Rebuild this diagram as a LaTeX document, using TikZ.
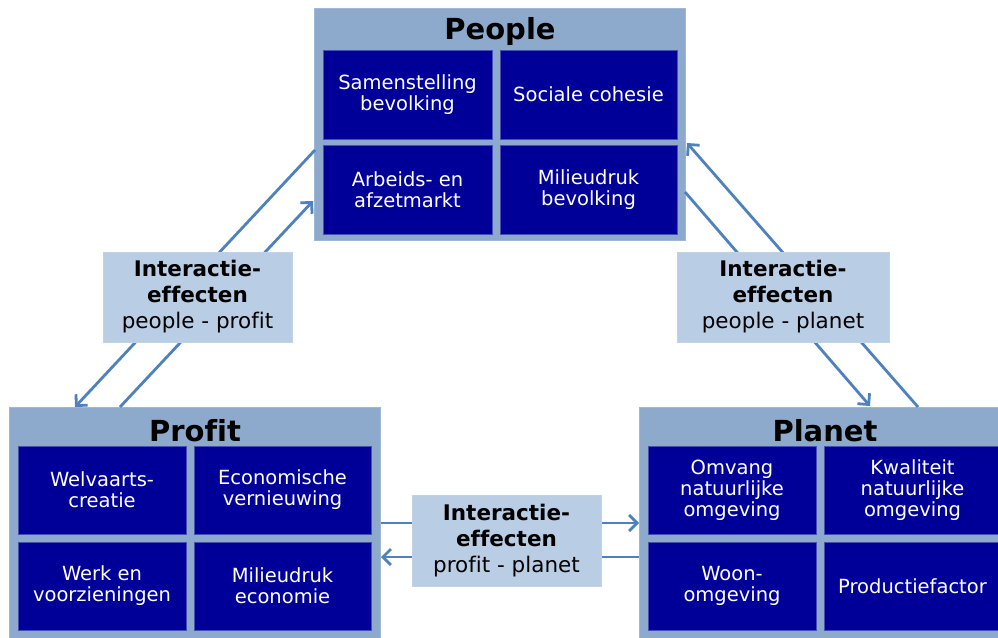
\documentclass[tikz,border=0pt]{standalone}
\usepackage{fontspec}
\setmainfont[Ligatures={NoCommon}]{DejaVu Sans}
\usetikzlibrary{arrows.meta}
\definecolor{outerblue}{HTML}{8DAACC}
\definecolor{cellblue}{HTML}{000099}
\definecolor{labelblue}{HTML}{B9CDE5}
\definecolor{arrowblue}{HTML}{4F81BD}
\begin{document}
\begin{tikzpicture}[x=1pt,y=-1pt,
  outerbox/.style={fill=outerblue, draw=outerblue!85!white, line width=1pt, inner sep=0pt},
  cell/.style={fill=cellblue, draw=cellblue!70!white, line width=0.6pt, inner sep=0pt, text=white, align=center,
    font=\fontsize{19.5}{21}\selectfont},
  title/.style={font=\bfseries\fontsize{29}{30}\selectfont, text=black, inner sep=0pt},
  label/.style={fill=labelblue, draw=labelblue!90!white, line width=0.6pt, inner sep=0pt, align=center,
    font=\fontsize{21.5}{26}\selectfont, text=black},
  conn/.style={draw=arrowblue, line width=2.8pt, -{Straight Barb[length=8pt,width=16pt]}}
]
\clip (0,0) rectangle (998,637);
\fill[white] (0,0) rectangle (998,637);

% People
\node[outerbox, minimum width=371pt, minimum height=232pt] (people) at (499.5,124) {};
\node[title] (peopletitle) at (500,31) {People};
\node[cell, minimum width=169pt, minimum height=89pt] (pc1) at (407.5,94.5) {Samenstelling\\bevolking};
\node[cell, minimum width=177pt, minimum height=89pt] (pc2) at (588.5,94.5) {Sociale cohesie};
\node[cell, minimum width=169pt, minimum height=89pt] (pc3) at (407.5,189.5) {Arbeids- en\\afzetmarkt};
\node[cell, minimum width=177pt, minimum height=89pt] (pc4) at (588.5,189.5) {Milieudruk\\bevolking};

% Profit
\node[outerbox, minimum width=371pt, minimum height=233pt] (profit) at (194.5,523.5) {};
\node[title] (profittitle) at (195,431) {Profit};
\node[cell, minimum width=168pt, minimum height=88pt] (fc1) at (102,490) {Welvaarts-\\creatie};
\node[cell, minimum width=177pt, minimum height=88pt] (fc2) at (282.5,490) {Economische\\vernieuwing};
\node[cell, minimum width=168pt, minimum height=88pt] (fc3) at (102,586) {Werk en\\voorzieningen};
\node[cell, minimum width=177pt, minimum height=88pt] (fc4) at (282.5,586) {Milieudruk\\economie};

% Planet
\node[outerbox, minimum width=371pt, minimum height=233pt] (planet) at (824.5,523.5) {};
\node[title] (planettitle) at (825,431) {Planet};
\node[cell, minimum width=168pt, minimum height=88pt] (lc1) at (732,490) {Omvang\\natuurlijke\\omgeving};
\node[cell, minimum width=177pt, minimum height=88pt] (lc2) at (912.5,490) {Kwaliteit\\natuurlijke\\omgeving};
\node[cell, minimum width=168pt, minimum height=88pt] (lc3) at (732,586) {Woon-\\omgeving};
\node[cell, minimum width=177pt, minimum height=88pt] (lc4) at (912.5,586) {Productiefactor};

% connector end points on the box borders
\coordinate (a1s) at (315,150);
\coordinate (a1e) at (75,407);
\coordinate (a2s) at (120,407);
\coordinate (a2e) at (313,201);
\coordinate (b1s) at (918,407);
\coordinate (b1e) at (687,143);
\coordinate (b2s) at (685,192);
\coordinate (b2e) at (870,406);
\coordinate (c1s) at (381,523);
\coordinate (c1e) at (639,523);
\coordinate (c2s) at (639,557);
\coordinate (c2e) at (381,557);

\draw[conn] (a1s) -- (a1e);
\draw[conn] (a2s) -- (a2e);
\draw[conn] (b1s) -- (b1e);
\draw[conn] (b2s) -- (b2e);
\draw[conn] (c1s) -- (c1e);
\draw[conn] (c2s) -- (c2e);

% labels
\node[label, minimum width=189pt, minimum height=90pt] (lpp) at (197.5,297)
  {\textbf{Interactie-}\\\textbf{effecten}\\people - profit};
\node[label, minimum width=212pt, minimum height=90pt] (lpl) at (783,297)
  {\textbf{Interactie-}\\\textbf{effecten}\\people - planet};
\node[label, minimum width=189pt, minimum height=91pt] (lfp) at (506.5,540.5)
  {\textbf{Interactie-}\\\textbf{effecten}\\profit - planet};
\end{tikzpicture}
\end{document}
